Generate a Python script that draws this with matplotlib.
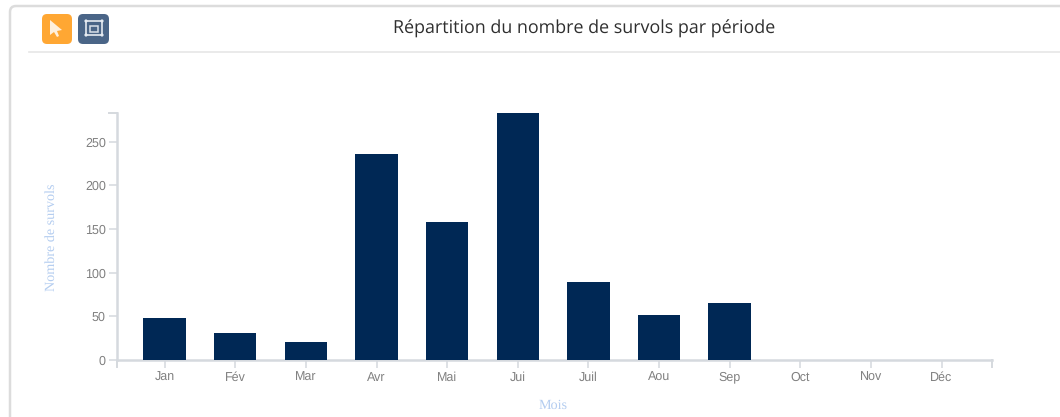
import matplotlib
matplotlib.use("Agg")
import matplotlib.pyplot as plt
from matplotlib.patches import Circle, FancyBboxPatch, Polygon, Rectangle
from matplotlib.lines import Line2D

W, H = 1060, 417

months = ["Jan", "Fév", "Mar", "Avr", "Mai", "Jui", "Juil", "Aou", "Sep", "Oct", "Nov", "Déc"]
survols = [48, 31, 21, 236, 158, 283, 89, 52, 65, 0, 0, 0]
y_ticks = [0, 50, 100, 150, 200, 250]

title = "Répartition du nombre de survols par période"
y_label = "Nombre de survols"
x_label = "Mois"

axis_col = "#d5d9de"
tick_col = "#808080"
label_col = "#b4cdf0"
bar_col = "#002855"

plt.rcParams["font.family"] = ["Liberation Sans", "DejaVu Sans"]
plt.rcParams["text.hinting"] = "no_hinting"

fig = plt.figure(figsize=(W / 100, H / 100), dpi=100, facecolor="white")


# figure helpers work in reference pixels, y going down
def fx(x):
    return x / W


def fy(y):
    return 1 - y / H


# toolbar and card, drawn on a full-figure pixel axes
bg = fig.add_axes([0, 0, 1, 1], zorder=0)
bg.set_xlim(0, W)
bg.set_ylim(H, 0)
bg.axis("off")

bg.add_patch(FancyBboxPatch((10, 6), 1100, 500, boxstyle="round,pad=0,rounding_size=6", fc="white", ec="#dcdcdc", lw=1.8))
bg.plot([29, W], [51.5, 51.5], color="#e6e6e6", lw=1.2)

bg.add_patch(FancyBboxPatch((42, 14), 30, 30, boxstyle="round,pad=0,rounding_size=5", fc="#ffa733", ec="none"))
bg.add_patch(FancyBboxPatch((78, 14), 31, 30, boxstyle="round,pad=0,rounding_size=5", fc="#4a6587", ec="none"))
bg.add_patch(Polygon([(50, 20), (50, 35), (54, 32), (57, 37), (59, 36), (57, 31), (62, 30)], fc="#fff0dc", ec="none"))
bg.add_patch(Rectangle((86, 21), 16, 14, fc="none", ec="#d8dfe8", lw=1.3))
bg.add_patch(Rectangle((90, 26), 8, 6, fc="none", ec="#d8dfe8", lw=1.1))
for cx, cy in [(86, 21), (102, 21), (86, 35), (102, 35)]:
    bg.add_patch(Circle((cx, cy), 1.6, fc="#e6ebf1", ec="none"))

fig.text(fx(584), fy(28.5), title, ha="center", va="center", fontsize=12.9, color="#2f2f2f",
         family=["Open Sans", "DejaVu Sans"])

# plot area
left, right, top, bottom = 117, 992, 113, 360
ax = fig.add_axes([fx(left), fy(bottom), (right - left) / W, (bottom - top) / H], zorder=1)
ax.patch.set_alpha(0)

ax.bar(range(len(months)), survols, width=0.6, color=bar_col, zorder=3)
ax.set_xlim(-0.675, 11.715)
ax.set_ylim(0, 283)

ax.set_xticks(range(len(months)))
ax.set_xticklabels(months)
ax.set_yticks(y_ticks)

ax.spines["top"].set_visible(False)
ax.spines["right"].set_visible(False)
for side in ["left", "bottom"]:
    ax.spines[side].set_color(axis_col)
    ax.spines[side].set_linewidth(1.8)

ax.tick_params(axis="both", color=axis_col, labelcolor=tick_col, labelsize=9, length=6, width=1.1)
ax.tick_params(axis="x", pad=2)
ax.tick_params(axis="y", pad=2)

# end ticks of the domain lines
fig.add_artist(Line2D([fx(117), fx(117)], [fy(360), fy(367)], color=axis_col, lw=1.4))
fig.add_artist(Line2D([fx(992), fx(992)], [fy(360), fy(367)], color=axis_col, lw=1.4))
fig.add_artist(Line2D([fx(109), fx(117)], [fy(113), fy(113)], color=axis_col, lw=1.4))

fig.text(fx(51), fy(237), y_label, rotation=90, ha="center", va="center", fontsize=10.2, color=label_col,
         family="Liberation Serif")
fig.text(fx(553), fy(405.5), x_label, ha="center", va="center", fontsize=10.2, color=label_col,
         family="Liberation Serif")

fig.savefig("out.png", dpi=100)
